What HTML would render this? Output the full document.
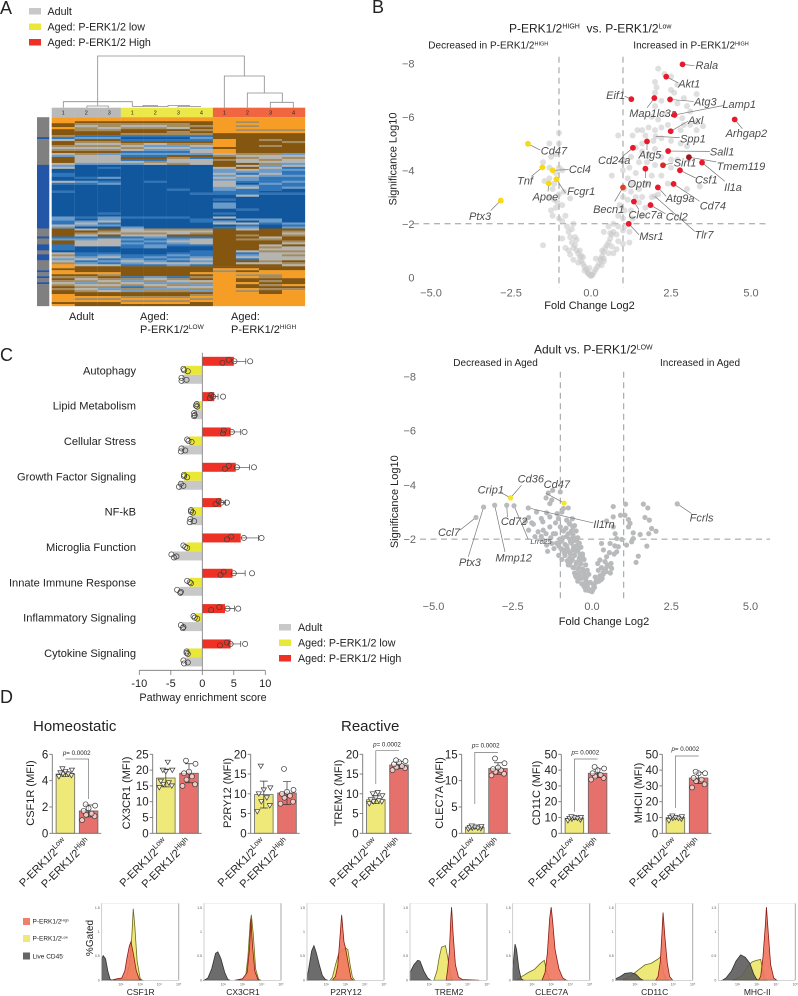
<!DOCTYPE html>
<html>
<head>
<meta charset="utf-8">
<title>P-ERK1/2 microglia figure</title>
<style>
html,body{margin:0;padding:0;background:#fff;}
svg{display:block;font-family:"Liberation Sans",Arial,sans-serif;}
text{fill:#222;}
</style>
</head>
<body>
<svg id="figure" xmlns="http://www.w3.org/2000/svg" width="798" height="996" viewBox="0 0 798 996">
<rect width="798" height="996" fill="#fff"/>
<text x="0" y="14" font-size="18" fill="#111">A</text>
<text x="372" y="13" font-size="18" fill="#111">B</text>
<text x="0" y="361" font-size="18" fill="#111">C</text>
<text x="0" y="703" font-size="18" fill="#111">D</text>

<g id="panel-a">
  <g>
    <rect x="29" y="8" width="12" height="6.5" fill="#c8c8c8"/>
    <text x="47.5" y="15" font-size="10.7">Adult</text>
    <rect x="29" y="23.5" width="12" height="6.5" fill="#eae837"/>
    <text x="47.5" y="30.5" font-size="10.7">Aged: P-ERK1/2 low</text>
    <rect x="29" y="39" width="12" height="6.5" fill="#ee3124"/>
    <text x="47.5" y="46" font-size="10.7">Aged: P-ERK1/2 High</text>
  </g>
  <path fill="none" stroke="#8a8a8a" stroke-width="0.8"
   d="M97.7 101.7V56H244.3V76M224.3 107.7V76H264.3V93M247.3 107.7V93H282.3V102.3M270.3 107.7V102.3H293.3V107.7M63.3 107.7V101.7H132.3V106.5M87 107.7V106H108.3V107.7M97.7 105.5V101.7M132.3 106.5H168V105.5H190M143 106.5V105.5H158M178 107.5V106.5H201"/>
  <g id="heatmap"></g>
  <text x="69" y="320" font-size="11">Adult</text>
  <text x="140" y="320" font-size="11">Aged:</text>
  <text x="140" y="333" font-size="11">P-ERK1/2<tspan font-size="6.5" dy="-4">LOW</tspan></text>
  <text x="231" y="320" font-size="11">Aged:</text>
  <text x="231" y="333" font-size="11">P-ERK1/2<tspan font-size="6.5" dy="-4">HIGH</tspan></text>
</g>

<g id="panel-b">
  <text x="509" y="32.7" font-size="12">P-ERK1/2<tspan font-size="7" dy="-4">HIGH</tspan><tspan dy="4">&#160;&#160;vs. P-ERK1/2</tspan><tspan font-size="7" dy="-4">Low</tspan></text>
  <text x="428.3" y="48.5" font-size="10">Decreased in P-ERK1/2<tspan font-size="5.5" dy="-3">HIGH</tspan></text>
  <text x="633.3" y="48.5" font-size="10">Increased in P-ERK1/2<tspan font-size="5.5" dy="-3">HIGH</tspan></text>
</g>
<g id="panel-b2">
  <text x="534" y="353.3" font-size="12">Adult vs. P-ERK1/2<tspan font-size="7" dy="-4">LOW</tspan></text>
  <text x="453.3" y="366" font-size="10">Decreased in Aged</text>
  <text x="660" y="366" font-size="10">Increased in Aged</text>
</g>

<g id="panel-c">
  <rect x="279" y="624" width="12" height="6.5" fill="#c8c8c8"/>
  <text x="298" y="631" font-size="10.7">Adult</text>
  <rect x="279" y="639.5" width="12" height="6.5" fill="#eae837"/>
  <text x="298" y="646.5" font-size="10.7">Aged: P-ERK1/2 low</text>
  <rect x="279" y="655" width="12" height="6.5" fill="#ee3124"/>
  <text x="298" y="662" font-size="10.7">Aged: P-ERK1/2 High</text>
  <text x="203" y="701" font-size="10.8" text-anchor="middle">Pathway enrichment score</text>
</g>

<g id="panel-d">
  <text x="33" y="731" font-size="15" fill="#111">Homeostatic</text>
  <text x="341" y="731" font-size="15" fill="#111">Reactive</text>
</g>

<g id="panel-h">
  <rect x="23" y="918" width="7" height="7" fill="#f0806a"/>
  <text x="32.5" y="923.5" font-size="6.5">P-ERK1/2<tspan font-size="3.5" dy="-2">High</tspan></text>
  <rect x="23" y="935" width="7" height="7" fill="#eee878"/>
  <text x="32.5" y="940.5" font-size="6.5">P-ERK1/2<tspan font-size="3.5" dy="-2">Low</tspan></text>
  <rect x="23" y="952.5" width="7" height="7" fill="#666"/>
  <text x="32.5" y="958.5" font-size="6.5">Live CD45<tspan font-size="3.5" dy="-2">-</tspan></text>
  <text transform="translate(93,938) rotate(-90)" font-size="10" text-anchor="middle">%Gated</text>
</g>
</svg>

<script>
/* ---------- Panel A data ---------- */
const heatColumnGroups = ["adult","adult","adult","low","low","low","low","high","high","high","high"];
const heatColumnLabels = ["1","2","3","1","2","3","4","1","2","3","4"];
const heatAdult1 = "3O 2B 1O 3B 1T 1M 1G 2B 1T 1G 1T 1B 1G 1L 3B 1G 1L 1G 2D 2M 2D 1G 1M 3D 1M 12D 2L 2M 1G 1L 4B 1M 1L 2B 3M 1D 1G 1T 1G 1L 1G 1T 1O 1O 1B 2O 1B 1T 1B 1T 1G 1T 1B 1T 2B 4O 1B 1O";
const heatAdult2 = "2O 1B 1T 1G 2T 2B 1M 1L 1B 1T 1G 1T 1G 1T 1B 1T 4G 1L 6D 1M 1D 1L 1M 16D 1M 1D 1L 1G 1L 1D 1G 1B 1T 1G 1M 1L 3G 3D 2M 1L 1G 1M 1L 1G 3B 1O 1B 1T 1G 1T 1L 1G 1T 1G 1T 2B 1O 1T 1O 2B";
const heatAdult3 = "2O 1B 2T 1G 1T 2B 1M 1L 1B 1T 1G 1T 1G 1T 1B 1L 4G 1L 1D 1M 4D 1L 1D 1M 1L 14D 1M 1D 2L 1G 1M 1L 1D 1B 1T 1G 1B 1M 1G 3G 3D 1M 1L 1G 1M 1L 1M 1G 3B 1O 1T 1B 1T 1G 1T 1G 1T 1L 1G 2B 1O 1T 1O 2B";
const heatLow1 = "2O 1B 1T 1G 1T 2B 1T 1M 1D 1M 1B 1T 1G 1T 1G 1M 1L 1M 1B 1M 1G 1L 26D 1M 4D 1L 2G 1T 1G 1M 1L 1M 1L 2M 3D 2M 1L 1G 1L 1M 5B 1M 1T 1L 1G 1T 1M 1T 1L 2B 1T 1O 1T 1O 1B";
const heatLow2 = "2O 1B 1T 1G 1T 2B 1T 1M 1D 1M 1B 1G 1L 1G 1L 1M 1L 1M 1B 1M 1T 1G 8D 1M 17D 1M 5D 1T 1G 1T 1G 1L 1M 1L 1M 2L 3D 1M 1L 1M 1L 1G 1M 5B 1L 1G 1T 1L 1G 1T 1L 1T 2B 1T 1O 1T 1O 1B";
const heatLow3 = "2O 1B 2T 1G 1B 2T 1M 1D 1M 1B 1T 1L 1G 1L 1M 1L 1B 1T 2G 1T 12D 1M 13D 1M 5D 1T 2G 1B 1M 1L 1G 1L 1M 3D 1M 1L 1M 1L 1M 1G 1L 5B 1M 1T 1G 1L 1T 1G 1L 1T 2B 1T 1O 1T 1O 1B";
const heatLow4 = "2O 2B 1T 1B 1T 1B 1T 1M 1L 1M 1B 1T 1G 1L 2G 1L 1B 1M 1G 2G 14D 1M 12D 2M 3D 1T 1G 1T 1B 1M 1G 2G 1M 2D 1M 2M 1L 1G 1L 1G 1M 3B 1O 1B 1T 1B 1G 1T 1L 1G 1T 1L 1B 1T 1O 1T 1O 2B";
const heatHigh1 = "8O 3B 4O 1B 2O 1G 1T 1B 1T 2B 1B 1G 2L 1G 1L 1G 1L 3G 2L 2M 2D 1M 1D 3L 2D 1M 1D 1G 1D 1L 1G 1D 1M 19B 1B 1O 1T 17O";
const heatHigh2 = "2O 1T 1O 1T 1O 1T 1O 10B 1T 1G 1T 2G 1B 1G 1B 1G 1L 1M 1G 2L 1M 1D 1L 1G 3M 1G 6D 1M 4D 1L 1D 1G 1M 1L 1G 2B 1T 1B 1T 1B 4B 1G 1M 1L 1G 1M 1B 1G 1B 1B 1O 1B 1O 1T 1O 2B 1O 2B 1O 1T 7O";
const heatHigh3 = "6O 1T 1O 3B 1T 2B 1T 3B 1T 2G 1T 1G 1T 1L 1G 2L 1G 1L 2M 1M 1L 3M 1D 1M 12D 2L 1M 2D 4B 1G 1T 2B 1G 1T 1G 1T 4G 1T 1G 1B 2B 2O 2T 1B 1T 1B 1T 1B 1T 2B 6O";
const heatHigh4 = "6O 1T 1O 4B 1T 5B 1L 1G 1T 2G 1L 1G 1M 1L 2M 1L 2M 1L 2M 1L 2D 1M 14D 1L 1M 1L 1B 1T 1G 1T 2B 1T 1G 1B 2G 1T 1G 1T 2G 1B 1T 1G 2B 4O 3B 1O 1B 1T 8O";
const heatColumns = [heatAdult1,heatAdult2,heatAdult3,heatLow1,heatLow2,heatLow3,heatLow4,heatHigh1,heatHigh2,heatHigh3,heatHigh4];
const heatSidebar = "10S 1Z 13S 32Z 4S 1Z 3S 3Z 2S 3Z 5S 1Z 2S 1Z 2S 1Z 11S";

/* ---------- Panel B data ---------- */
const volcanoBGrayFc = [0.05,0.1,0.15,0.2,0.25,0.3,0.35,0.4,0.33,0.45,0.5,0.4,0.55,0.6,0.65,0.7,2.1,2.3,2.5,2.7,2.0,2.05,2.5,2.6,2.0,2.2,2.0,3.3,2.7,2.9,3.0,3.1,2.85,3.3,2.9,3.1,3.5,3.3,2.8,1.9,2.1,2.3,2.4,2.2,2.0,1.8,1.6,1.45,1.3,1.7,1.95,2.2,2.5,2.8,3.0,0.85,1.6,1.4,1.6,1.8,2.0,2.2,2.5,2.7,1.25,1.0,1.5,1.75,2.0,2.5,1.0,1.2,0.65,1.4,1.9,2.2,1.15,1.3,1.05,1.25,1.5,1.75,2.4,3.4,3.0,1.6,1.4,1.9,2.1,1.0,1.15,1.5,1.7,0.9,1.05,1.25,1.6,1.3,1.0,0.85,0.7,0.55,0.85,1.05,0.4,0.6,0.8,1.0,1.2,0.85,1.0,1.2,0.65,0.55,0.7,0.8,0.35,0.3,0.15,0.4,-0.05,-0.1,-0.15,-0.2,-0.25,-0.3,-0.35,-0.4,-0.3,-0.45,-0.5,-0.55,-0.6,-0.5,-0.65,-0.7,-0.6,-0.75,-0.55,-0.9,-0.8,-1.0,-1.2,-1.25,-1.1,-0.9,-1.05,-1.15,-0.65,-1.3,-1.0,-0.85,-1.2,-1.45,-1.3,-1.15,-1.1,-1.3,-1.0,-0.9,-1.25,-1.1,-1.3,-1.0,-1.0,-1.5,-1.5,-0.8,-0.65,-0.4,-0.55,-0.2,-0.1,-0.05,-0.7,-0.9,-0.45,-0.35,-0.25,0,0.02,-0.02,2.02,1.99];
const volcanoBGraySig = [0.1,0.2,0.3,0.4,0.5,0.65,0.8,0.95,0.45,1.1,1.2,0.6,1.3,1.45,1.6,1.7,7.8,7.6,7.5,7.2,7.3,7.1,7.0,6.9,6.9,6.6,6.4,6.85,6.5,6.7,6.4,6.2,5.95,5.8,5.7,5.7,5.65,5.5,5.5,6.0,5.9,6.1,5.7,5.6,5.5,5.6,5.5,5.5,5.3,5.3,5.1,5.2,5.1,5.0,4.9,5.3,5.0,4.85,4.7,4.6,4.8,4.5,4.4,4.4,4.5,4.4,4.3,4.3,4.2,4.1,4.0,4.1,3.8,3.9,3.8,3.8,3.7,3.5,3.3,3.2,3.3,3.5,3.5,3.4,3.3,3.0,3.0,3.0,3.1,3.0,2.9,2.8,2.6,2.7,2.5,2.5,2.3,2.2,2.2,2.3,2.0,1.9,1.9,1.9,1.7,1.65,1.6,1.75,1.7,1.35,1.25,1.3,1.15,0.9,0.9,1.05,1.0,0.7,0.7,0.7,0.1,0.2,0.3,0.4,0.5,0.6,0.75,0.9,0.8,1.0,1.2,1.1,1.3,1.5,1.5,1.7,1.8,1.9,2.0,2.1,2.3,2.2,2.3,2.5,2.6,2.7,2.8,2.9,2.95,3.0,3.1,3.2,3.3,3.6,3.7,3.5,3.9,4.1,4.1,4.0,4.5,4.6,5.0,5.0,5.4,4.3,1.2,1.1,0.85,0.55,0.65,0.25,0.15,0.35,1.0,1.45,1.4,1.0,0.75,0.05,0.08,0.08,5.27,3.03];
const volcanoBRedGenes = ["Rala","Akt1","Eif1","Map1lc3a","Atg3","Lamp1","Arhgap2","Axl","Atg5","Cd24a","Sall1","Sirt1","Tmem119","Il1a","Csf1","Optn","Atg9a","Cd74","Becn1","Clec7a","Ccl2","Msr1"];
const volcanoBRedFc = [2.86,2.35,1.26,1.98,2.47,2.61,4.49,2.49,1.75,1.31,2.41,2.25,3.06,3.47,2.78,1.7,2.09,2.58,1.0,1.34,1.86,1.18];
const volcanoBRedSig = [7.96,7.5,6.66,6.7,6.65,6.07,5.9,5.46,5.08,4.84,4.72,4.19,4.49,4.29,4.0,4.06,3.36,3.49,3.36,2.83,2.7,2.0];
const volcanoBYellowGenes = ["Cd47","Tnf","Ccl4","Fcgr1","Apoe","Ptx3"];
const volcanoBYellowFc = [-1.97,-1.52,-1.2,-1.08,-1.32,-2.82];
const volcanoBYellowSig = [4.99,4.11,4.0,3.67,3.51,2.87];
const volcanoBPlainGenes = ["Spp1","Tlr7"];
const volcanoBPlainFc = [2.02,1.99];
const volcanoBPlainSig = [5.27,3.03];
const volcanoXTicks = [-5,-2.5,0,2.5,5];
const volcanoYTicks = [8,6,4,2,0];

/* ---------- Adult vs low volcano data ---------- */
const volcanoCGrayFc = [-1.38,-1.24,-1.0,-1.45,-1.27,-1.33,-0.9,-0.75,-1.1,-1.43,-1.75,-2.0,-1.9,-1.6,-1.55,-1.33,-1.06,-0.8,-2.0,-1.7,-1.54,-1.33,-1.0,-1.8,-1.54,-1.22,-1.43,-1.27,-1.0,-0.9,-0.8,-1.15,-1.05,-0.95,-0.85,-0.7,-0.75,-0.65,-0.6,-0.55,-0.9,-0.8,-0.7,-0.6,-0.5,-0.85,-0.75,-0.65,-0.55,-0.45,-0.7,-0.6,-0.5,-0.4,-0.75,-0.65,-0.55,-0.45,-0.35,-0.6,-0.5,-0.4,-0.3,-0.55,-0.45,-0.35,-0.25,-0.5,-0.4,-0.3,-0.2,-0.45,-0.35,-0.25,-0.15,-0.3,-0.2,-0.1,-0.25,-0.15,-0.05,-0.2,-0.12,-0.06,0,0.02,-0.1,-0.18,-1.4,-1.2,-1.05,-0.95,-0.7,-0.4,-0.3,0.67,1.06,1.04,0.9,0.67,0.46,1.15,1.2,1.15,1.62,1.76,1.67,1.81,1.88,2.02,1.79,1.3,1.52,1.3,1.25,1.09,1.73,1.46,1.39,0.67,0.73,0.78,0.94,0.83,0.78,0.57,0.3,0.36,0.46,0.41,0.62,0.25,0.3,0.2,0.35,0.45,0.5,0.1,0.15,0.25,0.35,0.05,0.12,0.2,0.28,0.03,0.08];
const volcanoCGraySig = [3.7,3.8,3.74,3.52,3.44,3.31,3.13,3.15,2.94,2.97,3.0,2.8,2.6,2.76,2.64,2.82,2.76,2.7,2.33,2.27,2.33,2.45,2.45,2.09,1.96,2.2,1.78,1.84,1.9,2.3,2.1,2.2,1.75,1.95,1.8,2.55,2.2,2.3,2.45,2.5,1.6,1.75,2.0,2.15,2.3,1.4,1.55,1.85,1.95,2.05,1.3,1.6,1.75,1.85,1.05,1.2,1.4,1.6,1.7,0.95,1.1,1.3,1.45,0.75,0.9,1.1,1.25,0.6,0.75,0.9,1.05,0.45,0.55,0.7,0.85,0.35,0.5,0.7,0.25,0.3,0.4,0.12,0.18,0.1,0.06,0.12,0.1,0.6,1.55,1.65,1.4,1.25,1.1,1.2,1.35,3.2,3.29,2.88,2.88,2.82,2.67,2.72,2.58,2.45,3.29,3.15,2.8,2.7,2.39,2.29,2.2,2.23,2.17,2.02,1.9,1.78,1.74,1.37,1.14,2.45,2.2,2.02,1.99,1.72,1.53,1.84,1.84,1.6,1.35,1.17,0.92,1.23,0.95,0.85,0.75,0.8,1.0,0.6,0.5,0.65,0.7,0.3,0.4,0.45,0.5,0.15,0.22];
const volcanoCExtraFc = [-0.62,-0.72,-0.82,-0.92,-1.02,-1.12,-0.58,-0.68,-0.78,-0.88,-0.98,-0.48,-0.58,-0.68,-0.78,-0.42,-0.52,-0.62,-0.72,-0.38,-0.48,-0.58,-0.32,-0.42,-0.52,-0.28,-0.38,-0.22,-0.32,-0.18,-1.6,-1.85,-2.1,-1.45,-1.3,-1.15,-0.95,0.18,0.28,0.38,0.48,0.55,0.6,0.7,0.22,0.32,0.42,0.12,0.58,0.72];
const volcanoCExtraSig = [2.75,2.6,2.4,2.05,2.0,1.85,2.05,1.9,1.65,1.5,1.65,1.95,1.7,1.45,1.2,1.8,1.55,1.25,1.05,1.45,1.15,0.95,1.3,0.95,0.65,0.85,0.6,0.6,0.35,0.42,2.1,2.55,2.65,2.2,2.05,2.6,3.0,1.1,0.6,0.85,1.05,1.5,1.1,1.45,0.45,0.55,0.9,0.42,0.75,1.75];
const volcanoCYellowGenes = ["Cd36","Crip1","Cd47"];
const volcanoCYellowFc = [-2.57,-2.57,-0.88];
const volcanoCYellowSig = [3.52,3.52,3.33];
const volcanoCNamedGenes = ["Cd72","Il1rn","Ccl7","Ptx3","Mmp12","Lrrc25","Fcrls"];
const volcanoCNamedFc = [-2.69,-2.01,-3.66,-3.42,-3.07,-2.46,2.69];
const volcanoCNamedSig = [3.25,3.15,2.8,3.18,3.25,3.23,3.3];

/* ---------- Panel C data ---------- */
const pathwayCategories = ["Autophagy","Lipid Metabolism","Cellular Stress","Growth Factor Signaling","NF-kB","Microglia Function","Innate Immune Response","Inflammatory Signaling","Cytokine Signaling"];
const pathwayHigh = [5.0,1.9,4.5,5.3,3.0,6.1,4.8,3.6,4.5];
const pathwayLow = [-2.8,-0.9,-2.1,-2.9,-1.7,-2.5,-2.0,-1.0,-2.4];
const pathwayAdult = [-3.2,-1.3,-3.3,-3.7,-1.9,-4.6,-3.6,-3.1,-2.7];
const pathwayHighSd = [1.9,0.6,1.6,2.2,0.7,2.8,2.0,1.5,1.6];
const pathwayHighReps = [[3.2,4.2,5.1,7.6],[1.2,1.4,1.7,3.3],[3.3,3.4,4.7,6.7],[3.6,4.2,5.5,8.2],[2.1,2.6,3.0,3.9],[3.9,4.6,6.6,9.4],[2.9,3.4,5.0,7.9],[1.4,2.7,4.0,5.7],[2.8,3.9,4.5,6.8]];
const pathwayLowReps = [[-2.9,-3.0,-2.3],[-1.0,-0.9,-0.8],[-2.2,-2.4,-1.7],[-2.9,-2.9,-2.4],[-1.8,-1.8,-1.5],[-2.7,-3.0,-2.4],[-2.0,-2.4,-1.8],[-1.2,-1.4,-0.8],[-2.5,-2.5,-2.3]];
const pathwayAdultReps = [[-3.3,-3.3,-2.5],[-1.3,-1.3,-1.2],[-3.4,-3.3,-2.7],[-3.7,-3.4,-3.0],[-2.0,-1.9,-1.3],[-4.5,-4.9,-4.1],[-3.5,-4.0,-3.4],[-3.1,-3.4,-3.0],[-2.9,-3.0,-2.3]];
const pathwayXTicks = [-10,-5,0,5,10];

/* ---------- Panel D data ---------- */
const mfiMarkers = ["CSF1R","CX3CR1","P2RY12","TREM2","CLEC7A","CD11C","MHCII"];
const mfiLowMeans = [4.5,17.5,9.8,8.5,1.1,9.5,10];
const mfiHighMeans = [1.7,19,10.2,17.3,12.3,38,35];
const mfiLowSd = [0.2,2.8,3.4,1.0,0.25,0.9,0.9];
const mfiHighSd = [0.45,3.0,2.9,0.9,1.1,2.8,3.5];
const mfiYTicks = [[0,2,4,6],[0,5,10,15,20,25],[0,5,10,15,20],[0,5,10,15,20],[0,5,10,15],[0,10,20,30,40,50],[0,10,20,30,40,50]];
const mfiLowPoints = [[4.3,4.4,4.5,4.5,4.6,4.7,4.8,4.9],[14.5,15,15.5,16,16.5,19.5,20,20,22.5],[5.5,7,8,9,10,11,11.5,17],[7.5,8,8,8.3,8.5,9,9.5,10,10.3],[0.8,0.9,1,1,1.1,1.2,1.3,1.4],[8,8.5,9,9.5,9.5,10,10,10.5],[8,9,9.5,9.5,10,10,10.5,11]];
const mfiHighPoints = [[1.0,1.3,1.4,1.5,1.7,1.9,2.1,2.2],[15,15.5,17,18,19,19.5,22,23],[7.5,8,9,9.5,10,10.5,11,16.3],[16,16.5,16.7,17,17.5,18,18.3,18.5],[11,11.3,11.7,12,12.2,12.5,13.3,14.2],[34,35,36,37,38,40,41,42],[29,31,33,34,35,38,38,39]];
const mfiPText = "0.0002";

/* ---------- Histogram data: [log-scale fraction, relative height] ---------- */
const histMarkers = ["CSF1R","CX3CR1","P2RY12","TREM2","CLEC7A","CD11C","MHC-II"];
const histLive = [
 [[0,.28],[.02,.32],[.05,.28],[.08,.12],[.11,.01],[.14,0]],
 [[0,0],[.05,.03],[.1,.15],[.15,.35],[.18,.37],[.22,.28],[.27,.1],[.31,.01],[.34,0]],
 [[0,.02],[.03,.2],[.06,.38],[.09,.45],[.12,.36],[.16,.2],[.2,.06],[.24,.01],[.27,0]],
 [[0,.1],[.05,.2],[.1,.26],[.13,.25],[.18,.12],[.23,.03],[.27,0]],
 [[0,.15],[.03,.47],[.05,.4],[.08,.15],[.11,.02],[.14,0]],
 [[0,.02],[.06,.05],[.12,.09],[.2,.1],[.26,.08],[.32,.02],[.36,0]],
 [[.05,0],[.1,.03],[.17,.12],[.23,.25],[.29,.33],[.35,.3],[.41,.22],[.46,.08],[.5,.01],[.53,0]]
];
const histLow = [
 [[.15,0],[.25,.02],[.32,.04],[.36,.2],[.39,.55],[.41,.93],[.43,.7],[.46,.25],[.5,.02],[.53,0]],
 [[.45,0],[.5,.01],[.54,.04],[.57,.3],[.6,.75],[.615,.85],[.64,.6],[.67,.15],[.71,.01],[.74,0]],
 [[.3,0],[.33,.04],[.37,.2],[.41,.34],[.45,.38],[.5,.42],[.53,.4],[.56,.2],[.59,.04],[.62,0]],
 [[.31,0],[.35,.12],[.38,.3],[.41,.43],[.46,.45],[.49,.3],[.52,.1],[.55,0]],
 [[.05,0],[.12,.05],[.2,.1],[.28,.14],[.36,.22],[.41,.26],[.44,.12],[.47,.03],[.5,0]],
 [[.1,.01],[.2,.06],[.3,.14],[.38,.2],[.46,.22],[.54,.27],[.58,.3],[.62,.1],[.65,.02],[.68,0]],
 [[.18,0],[.3,.05],[.38,.18],[.44,.24],[.5,.26],[.55,.27],[.58,.12],[.6,.02],[.63,0]]
];
const histHigh = [
 [[.12,0],[.2,.02],[.26,.03],[.3,.12],[.33,.3],[.36,.45],[.38,.5],[.41,.35],[.45,.12],[.49,.01],[.52,0]],
 [[.4,0],[.5,.02],[.56,.1],[.59,.4],[.61,.8],[.63,.45],[.66,.12],[.7,.01],[.73,0]],
 [[.33,0],[.37,.05],[.4,.2],[.42,.45],[.45,.85],[.48,.5],[.5,.42],[.54,.2],[.57,.03],[.6,0]],
 [[.47,0],[.49,.15],[.51,.35],[.53,.8],[.54,.95],[.56,.6],[.59,.2],[.63,.04],[.68,.01],[.9,0]],
 [[.38,0],[.42,.1],[.45,.35],[.48,.8],[.5,.95],[.52,.75],[.55,.4],[.6,.15],[.65,.03],[.7,0]],
 [[.52,0],[.55,.05],[.58,.25],[.6,.6],[.615,.88],[.64,.55],[.67,.22],[.7,.05],[.74,0]],
 [[.52,0],[.55,.05],[.58,.3],[.61,.7],[.625,.95],[.65,.6],[.68,.2],[.72,.03],[.76,0]]
];

/* ---------- Helpers ---------- */
const SVGNS = "http://www.w3.org/2000/svg";
function mk(tag, attrs, parent, txt) {
  const e = document.createElementNS(SVGNS, tag);
  for (const k in attrs) e.setAttribute(k, attrs[k]);
  if (txt !== undefined) e.textContent = txt;
  parent.appendChild(e);
  return e;
}
function addSup(t, sup, size) {
  return mk("tspan", {"font-size": size, dy: -size * 0.6}, t, sup);
}

/* ---------- Draw heatmap ---------- */
(function drawHeatmap() {
  const root = document.getElementById("heatmap");
  const colors = {O:"#f59d25",B:"#84560f",T:"#a58c5f",G:"#b4b4b2",L:"#6b9cc9",M:"#2f75ba",D:"#11579d",S:"#808080",Z:"#2456a8"};
  const groupFill = {adult:"#b9b9b9",low:"#ece84a",high:"#ef6641"};
  const left = 51.7, colW = 23.03, top = 117.2, bottom = 306, annTop = 107.7;
  function bands(str, x, w, namePrefix) {
    const runs = str.split(" ").map(r => [parseInt(r), r.slice(-1)]);
    const total = runs.reduce((a, r) => a + r[0], 0);
    let y = top;
    const h = bottom - top;
    runs.forEach(r => {
      const bh = r[0] / total * h;
      const rect = mk("rect", {x: x, y: y.toFixed(2), width: w, height: (bh + 0.15).toFixed(2), fill: colors[r[1]]}, root);
      
      
      y += bh;
    });
  }
  heatColumns.forEach((col, i) => {
    const x = left + i * colW;
    const ann = mk("rect", {x: x, y: annTop, width: colW + 0.2, height: top - annTop, fill: groupFill[heatColumnGroups[i]]}, root);
    
    
    bands(col, x, colW + 0.1, 'heatmap-' + heatColumnGroups[i]);
    const lab = mk("text", {x: x + colW / 2, y: top - 2.5, "font-size": 5.5, "text-anchor": "middle", fill: "#333"}, root, heatColumnLabels[i]);
    
    
  });
  bands(heatSidebar, 37, 12.3, 'row-cluster-sidebar');
})();

/* ---------- Draw volcano ---------- */
function drawVolcano(cfg) {
  const root = document.getElementById(cfg.root);
  const X = fc => cfg.x0 + fc * cfg.sx;
  const Y = sig => cfg.y0 - sig * cfg.sy;
  const dash = {stroke: "#9a9a9a", "stroke-width": 1, "stroke-dasharray": "6 4.5"};
  [[X(-1), cfg.vTop, X(-1), cfg.vBottom, 'v-line-minus-one'], [X(1), cfg.vTop, X(1), cfg.vBottom, 'v-line-plus-one'], [cfg.hLeft, Y(2), cfg.hRight, Y(2), 'h-line-significance']].forEach(l => {
    const line = mk("line", Object.assign({x1: l[0], y1: l[1], x2: l[2], y2: l[3]}, dash), root);
    
    
  });
  volcanoXTicks.forEach(t => {
    const tx = mk("text", {x: X(t), y: cfg.xTickY, "font-size": 11, "text-anchor": "middle", style: "fill:#666"}, root, t < 0 ? "\u2212" + Math.abs(t).toFixed(1) : t.toFixed(1));
    
    
  });
  cfg.yTicks.forEach(t => {
    const tx = mk("text", {x: cfg.yTickX, y: Y(t) + 4, "font-size": 11, "text-anchor": "end", style: "fill:#666"}, root, t === 0 ? "0" : "\u2212" + t);
    
    
  });
  const yTitle = mk("text", {transform: "translate(" + cfg.yTitleX + "," + cfg.yTitleY + ") rotate(-90)", "font-size": 11, "text-anchor": "middle"}, root, "Significance Log10");
  
  
  const xTitle = mk("text", {x: cfg.xTitleX, y: cfg.xTitleY, "font-size": 11, "text-anchor": "middle"}, root, "Fold Change Log2");
  
  

  cfg.grayFc.forEach((fc, i) => {
    const c = mk("circle", {cx: X(fc), cy: Y(cfg.graySig[i]), r: cfg.grayR, fill: cfg.grayFill, "fill-opacity": cfg.grayOpacity}, root);
    
    
  });
  cfg.sets.forEach(set => {
    set.genes.forEach((g, i) => {
      const px = X(set.fc[i]), py = Y(set.sig[i]);
      const off = cfg.labels[g];
      if (off) {
        const ln = mk("line", {x1: px, y1: py, x2: px + off[2], y2: py + off[3], stroke: "#777", "stroke-width": 0.7}, root);
        
        
      }
      if (set.fill) {
        const fill = (g === "Tmem119") ? "#a3141f" : (g === "Becn1" ? "#d8452a" : (g === "Sirt1" ? "#d92a22" : set.fill));
        const c = mk("circle", {cx: px, cy: py, r: set.r, fill: fill}, root);
        
        
      }
      if (off) {
        const t = mk("text", {x: px + off[0], y: py + off[1] + 4, "font-size": g === "Lrrc25" ? 7.5 : 11, "font-style": "italic", "text-anchor": "middle", style: "fill:#4d4d4d"}, root, g);
        
        
      }
    });
  });
}

const labelOffsetsB = {
  Rala:[24.3,.7,12,1.3],Akt1:[23,6.7,11.7,6],Eif1:[-15.7,-4.3,-6.7,-3],Map1lc3a:[-1.3,14.7,-7.3,9.7],Atg3:[35.3,2.3,23.7,2],
  Lamp1:[64.7,-11,48.3,-9.3],Arhgap2:[11.7,13.3,7.7,9.3],Axl:[25,-11.3,17.3,-10],Spp1:[37.3,2,24,1.3],Atg5:[3,13.3,0,8.7],
  Cd24a:[-18.7,12,-10,8.3],Sall1:[54,.3,41.7,.3],Sirt1:[22,-2.7,10,-2.3],Tmem119:[52,9,27.3,4.7],Il1a:[31,24.7,22.7,18.7],
  Csf1:[26.3,9.3,15.7,7.7],Optn:[-6,15,0,9.3],Atg9a:[22.3,10.7,8.3,9],Cd74:[39.3,21.7,26,17.3],Becn1:[-14.3,21.7,-8.3,14],
  Clec7a:[11.7,13,5,8],Ccl2:[26.3,11.3,15,8.7],Msr1:[22.7,12,10.3,11],Tlr7:[49.3,38.3,40,35],
  Cd47:[26,6.7,12.3,6.3],Tnf:[-17.3,13.3,-11,9],Ccl4:[27.3,-1.3,16,-.7],Fcgr1:[24.7,12,9,14],Apoe:[-3.3,13.3,-.7,8],Ptx3:[-20.7,15.7,-10,10]
};
const labelOffsetsC = {
  Cd36:[20.3,-19.3,11,-12.7],Crip1:[-19.7,-8.3,-10.7,-6],Cd47:[-7.3,-19.3,-18,-9.7],Cd72:[7.3,16,.7,11.7],Il1rn:[75.7,16.3,65,15],
  Ccl7:[-27,14.7,-16,12.7],Ptx3:[-13.7,55,-15.3,49.7],Mmp12:[19,52.3,10.3,46.7],Lrrc25:[27,34.3,14.3,33.7],Fcrls:[24.3,13.7,14.3,9.7]
};

drawVolcano({
  root: "panel-b", name: "volcano-b", x0: 591, sx: 32, y0: 277.3, sy: 26.75,
  vTop: 56.7, vBottom: 288, hLeft: 413, hRight: 767, xTickY: 296.7, yTickX: 414.5, yTicks: volcanoYTicks,
  yTitleX: 396.5, yTitleY: 159, xTitleX: 589.5, xTitleY: 309,
  grayFc: volcanoBGrayFc, graySig: volcanoBGraySig, grayR: 3, grayFill: "#c9c9c9", grayOpacity: 0.6,
  labels: labelOffsetsB,
  sets: [
    {genes: volcanoBPlainGenes, fc: volcanoBPlainFc, sig: volcanoBPlainSig},
    {genes: volcanoBRedGenes, fc: volcanoBRedFc, sig: volcanoBRedSig, fill: "#e8192c", r: 2.9},
    {genes: volcanoBYellowGenes, fc: volcanoBYellowFc, sig: volcanoBYellowSig, fill: "#f7d916", r: 2.9}
  ]
});
drawVolcano({
  root: "panel-b2", name: "volcano-c", x0: 592, sx: 31.7, y0: 593.3, sy: 27.1,
  vTop: 371.7, vBottom: 601.7, hLeft: 420, hRight: 770, xTickY: 610, yTickX: 416, yTicks: [8,6,4,2],
  yTitleX: 398, yTitleY: 501.7, xTitleX: 604, xTitleY: 625,
  grayFc: volcanoCGrayFc.concat(volcanoCExtraFc), graySig: volcanoCGraySig.concat(volcanoCExtraSig), grayR: 2.6, grayFill: "#b8babb", grayOpacity: 1,
  labels: labelOffsetsC,
  sets: [
    {genes: volcanoCNamedGenes, fc: volcanoCNamedFc, sig: volcanoCNamedSig, fill: "#b8babb", r: 2.6},
    {genes: volcanoCYellowGenes, fc: volcanoCYellowFc, sig: volcanoCYellowSig, fill: "#f4e52b", r: 2.6}
  ]
});

/* ---------- Draw pathway bars ---------- */
(function drawPathway() {
  const root = document.getElementById("panel-c");
  const X = v => 202.3 + v * 6.3;
  const catY = i => 370.3 + i * 35.33;
  const barH = 9;
  pathwayCategories.forEach((cat, i) => {
    const cy = catY(i);
    const label = mk("text", {x: 136, y: cy + 4, "font-size": 11.1, "text-anchor": "end"}, root, cat);
    
    
    const series = [
      [pathwayHigh[i], cy - 13.5, "#ee3124", "high", pathwayHighReps[i], [1.5, -1.5, 0, 0]],
      [pathwayLow[i], cy - 4.5, "#eae837", "low", pathwayLowReps[i], [0, -1.5, 1]],
      [pathwayAdult[i], cy + 4.5, "#c8c8c8", "adult", pathwayAdultReps[i], [1.5, -1.5, 0.5]]
    ];
    series.forEach(s => {
      const x1 = Math.min(X(0), X(s[0]));
      const w = Math.abs(X(s[0]) - X(0));
      const bar = mk("rect", {x: x1, y: s[1], width: w, height: barH, fill: s[2]}, root);
      
      
    });
    const m = cy - 9;
    const err = mk("path", {d: "M" + X(pathwayHigh[i]) + " " + m + "H" + X(pathwayHigh[i] + pathwayHighSd[i]) + "M" + X(pathwayHigh[i] + pathwayHighSd[i]) + " " + (m - 3) + "v6", stroke: "#444", "stroke-width": 0.7, fill: "none"}, root);
    
    
    series.forEach(s => {
      s[4].forEach((v, k) => {
        const c = mk("circle", {cx: X(v), cy: s[1] + barH / 2 + s[5][k], r: 2.6, fill: "none", stroke: "#3d3d3d", "stroke-width": 0.7}, root);
        
        
      });
    });
  });
  const axisV = mk("line", {x1: X(0), y1: 352.7, x2: X(0), y2: 670.3, stroke: "#777", "stroke-width": 0.8}, root);
  
  
  const axisH = mk("line", {x1: X(-10), y1: 670.3, x2: X(10), y2: 670.3, stroke: "#777", "stroke-width": 0.8}, root);
  
  
  pathwayXTicks.forEach(t => {
    const tick = mk("line", {x1: X(t), y1: 670.3, x2: X(t), y2: 675, stroke: "#777", "stroke-width": 0.8}, root);
    
    
    const lab = mk("text", {x: X(t), y: 687, "font-size": 11, "text-anchor": "middle"}, root, String(t));
    
    
  });
})();

/* ---------- Draw MFI charts ---------- */
(function drawMfi() {
  const root = document.getElementById("panel-d");
  const axisXs = [52.3,152.7,250.7,362.7,461.7,561.3,662.3];
  const yTitleXs = [34,130,231,342,443,540,642];
  const brackets = [
    {side:"r", y:759, drop:799, tx:76.7, ty:755.5},null,null,
    {side:"l", y:750.7, drop:784, tx:387, ty:747},
    {side:"l", y:752.4, drop:804, tx:485.7, ty:748},
    {side:"l", y:759, drop:811.7, tx:585.3, ty:755},
    {side:"l", y:756, drop:808, tx:685.3, ty:751.5}
  ];
  const jitter = [-6.5,6,-2.5,3,-5,0,6.5,-3,2];
  const base = 833.3, plotH = 79;
  mfiMarkers.forEach((mk_, i) => {
    const g = mk("g", {}, root);
    
    
    const ax = axisXs[i];
    const ticks = mfiYTicks[i];
    const maxV = ticks[ticks.length - 1];
    const Y = v => base - v / maxV * plotH;
    const bars = [
      {x: ax + 3.8, mean: mfiLowMeans[i], sd: mfiLowSd[i], pts: mfiLowPoints[i], fill: "#efe97a", kind: "low"},
      {x: ax + 27, mean: mfiHighMeans[i], sd: mfiHighSd[i], pts: mfiHighPoints[i], fill: "#e6716c", kind: "high"}
    ];
    bars.forEach(b => {
      const r = mk("rect", {x: b.x, y: Y(b.mean), width: 18.6, height: base - Y(b.mean), fill: b.fill, stroke: "#666", "stroke-width": 0.8}, g);
      
      
      const cx = b.x + 9.3;
      const e = mk("path", {d: "M" + cx + " " + Y(b.mean - b.sd) + "V" + Y(b.mean + b.sd) + "M" + (cx - 4) + " " + Y(b.mean + b.sd) + "h8M" + (cx - 4) + " " + Y(b.mean - b.sd) + "h8", stroke: "#333", "stroke-width": 0.7, fill: "none"}, g);
      
      
      b.pts.forEach((v, k) => {
        const px = cx + jitter[k % jitter.length], py = Y(v);
        let p;
        if (b.kind === "low") {
          p = mk("path", {d: "M" + (px - 2.6) + " " + (py - 2) + "h5.2l-2.6 4.4z", fill: "#fff", "fill-opacity": 0.75, stroke: "#3a3a3a", "stroke-width": 0.7}, g);
        } else {
          p = mk("circle", {cx: px, cy: py, r: 2.5, fill: "#fff", "fill-opacity": 0.6, stroke: "#3a3a3a", "stroke-width": 0.7}, g);
        }
        
        
      });
      const lx = cx + 2.5;
      const lab = mk("text", {transform: "translate(" + lx + ",843) rotate(-45)", "font-size": 11, "text-anchor": "end"}, g, "P-ERK1/2");
      addSup(lab, b.kind === "low" ? "Low" : "High", 7.5);
      
      
    });
    const axis = mk("path", {d: "M" + ax + " " + Y(maxV) + "V" + base + "H" + (ax + 49), fill: "none", stroke: "#777", "stroke-width": 0.9}, g);
    
    
    ticks.forEach(t => {
      const tk = mk("line", {x1: ax - 3, y1: Y(t), x2: ax, y2: Y(t), stroke: "#777", "stroke-width": 0.9}, g);
      
      
      const lb = mk("text", {x: ax - 4, y: Y(t) + 4, "font-size": 11.5, "text-anchor": "end"}, g, String(t));
      
      
    });
    const yt = mk("text", {transform: "translate(" + yTitleXs[i] + ",793) rotate(-90)", "font-size": 11, "text-anchor": "middle"}, g, mk_ + " (MFI)");
    
    
    const br = brackets[i];
    if (br) {
      const xL = ax + 13.1, xR = ax + 36.3;
      const d = br.side === "r"
        ? "M" + xL + " " + br.y + "H" + xR + "V" + br.drop
        : "M" + xL + " " + br.drop + "V" + br.y + "H" + xR;
      const bp = mk("path", {d: d, fill: "none", stroke: "#777", "stroke-width": 0.7}, g);
      
      
      const pt = mk("text", {x: br.tx, y: br.ty - 0.5, "font-size": 6.2, "text-anchor": "middle"}, g);
      const pi = mk("tspan", {"font-style": "italic"}, pt, "p");
      
      
      const pv = mk("tspan", {}, pt, "= " + mfiPText);
      
      
      
      
    }
  });
})();

/* ---------- Draw histograms ---------- */
(function drawHist() {
  const root = document.getElementById("panel-h");
  const lefts = [101.7,204,307,410,512.7,615.7,718.3];
  const W = 77, top = 903.3, bottom = 980.3, H = bottom - top;
  const yTickLabels = ["0","0.5","1","1.5"];
  const xTickLabels = ["10\u00B2","10\u00B3","10\u2074","10\u2075"];
  histMarkers.forEach((name, i) => {
    const g = mk("g", {}, root);
    
    
    const L = lefts[i];
    const X = f => L + f * W;
    const Y = h => bottom - h * H;
    function curve(pts, fill, stroke, op, label) {
      let d = "M" + X(pts[0][0]) + " " + bottom;
      pts.forEach(p => { d += "L" + X(p[0]).toFixed(2) + " " + Y(p[1]).toFixed(2); });
      d += "L" + X(pts[pts.length - 1][0]) + " " + bottom + "Z";
      const c = mk("path", {d: d, fill: fill, "fill-opacity": op, stroke: stroke, "stroke-width": 0.8}, g);
      
      
    }
    curve(histLow[i], "#eee878", "#6b6a1e", 1, "low");
    curve(histLive[i], "#5c5c5c", "#333", 0.9, "live");
    curve(histHigh[i], "#f0765e", "#8a1a14", 0.9, "high");
    const axes = mk("path", {d: "M" + L + " " + top + "V" + bottom + "H" + (L + W), fill: "none", stroke: "#bbb", "stroke-width": 0.7}, g);
    
    
    const rightEdge = mk("line", {x1: L + W, y1: top, x2: L + W, y2: bottom, stroke: "#aaa", "stroke-width": 1}, g);
    
    
    const topEdge = mk("line", {x1: L, y1: top, x2: L + W, y2: top, stroke: "#e2e2e2", "stroke-width": 0.5}, g);
    
    
    yTickLabels.forEach((t, k) => {
      const y = bottom - k * 0.313 * H;
      const tl = mk("text", {x: L - 2, y: y + 1, "font-size": 3.5, "text-anchor": "end", style: "fill:#555"}, g, t);
      
      
    });
    xTickLabels.forEach((t, k) => {
      const x = L + (k + 1) * 0.25 * W;
      const tl = mk("text", {x: x, y: bottom + 5, "font-size": 3.5, "text-anchor": "middle", style: "fill:#555"}, g, t);
      
      
    });
    const lab = mk("text", {x: L + W / 2 + 0.5, y: 995, "font-size": 8.5, "text-anchor": "middle"}, g, name);
    
    
  });
})();
</script>
</body>
</html>
